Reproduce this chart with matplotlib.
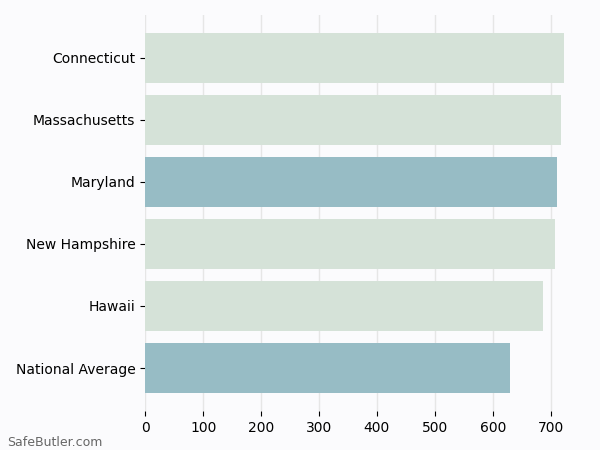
import matplotlib
matplotlib.use('Agg')
import matplotlib.pyplot as plt

states = ['Connecticut', 'Massachusetts', 'Maryland', 'New Hampshire', 'Hawaii', 'National Average']
values = [723, 718, 711, 708, 687, 630]
colors = ['#d5e2d8', '#d5e2d8', '#97bcc5', '#d5e2d8', '#d5e2d8', '#97bcc5']

bg = '#fbfbfd'
fig = plt.figure(figsize=(6, 4.5), dpi=100, facecolor=bg)
ax = fig.add_axes([0.242, 0.087, 0.733, 0.88], facecolor=bg)

ax.barh(range(len(states)), values, height=0.8, color=colors, zorder=2)
ax.set_yticks(range(len(states)))
ax.set_yticklabels(states, fontsize=10)
ax.invert_yaxis()
ax.set_xticks([0, 100, 200, 300, 400, 500, 600, 700])
ax.tick_params(axis='x', labelsize=10)
ax.grid(axis='x', color='#e6e6e6', linewidth=1, zorder=0)
for s in ax.spines.values():
    s.set_visible(False)

fig.text(0.012, 0.01, 'SafeButler.com', fontsize=9, color='#666666')

fig.savefig('out.png', facecolor=bg)
